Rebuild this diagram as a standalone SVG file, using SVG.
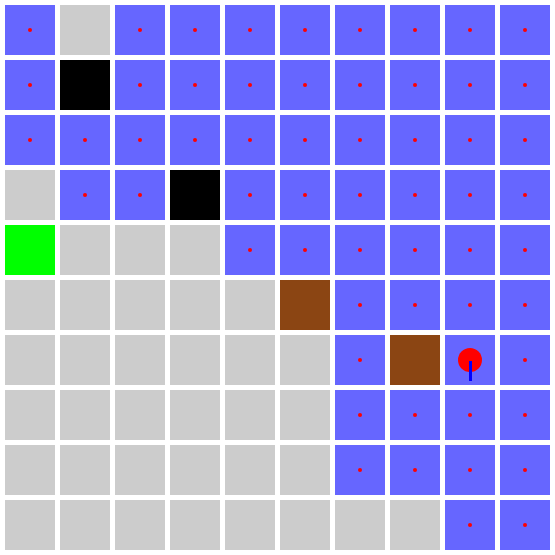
<svg xmlns="http://www.w3.org/2000/svg" width="555" height="555" viewBox="0 0 555 555">
<defs>
<style>
.b{fill:#6666ff}
.g{fill:#cccccc}
.k{fill:#000000}
.n{fill:#00ff00}
.r{fill:#8b4513}
.d{fill:#ff0000}
</style>
<rect id="cell" width="50" height="50"/>
<circle id="dot" r="2" class="d"/>
</defs>
<rect width="555" height="555" fill="#ffffff"/>
<g id="grid">
<g id="r0">
<use href="#cell" x="5" y="5" class="b"/><use href="#cell" x="60" y="5" class="g"/><use href="#cell" x="115" y="5" class="b"/><use href="#cell" x="170" y="5" class="b"/><use href="#cell" x="225" y="5" class="b"/><use href="#cell" x="280" y="5" class="b"/><use href="#cell" x="335" y="5" class="b"/><use href="#cell" x="390" y="5" class="b"/><use href="#cell" x="445" y="5" class="b"/><use href="#cell" x="500" y="5" class="b"/>
</g>
<g id="r1">
<use href="#cell" x="5" y="60" class="b"/><use href="#cell" x="60" y="60" class="k"/><use href="#cell" x="115" y="60" class="b"/><use href="#cell" x="170" y="60" class="b"/><use href="#cell" x="225" y="60" class="b"/><use href="#cell" x="280" y="60" class="b"/><use href="#cell" x="335" y="60" class="b"/><use href="#cell" x="390" y="60" class="b"/><use href="#cell" x="445" y="60" class="b"/><use href="#cell" x="500" y="60" class="b"/>
</g>
<g id="r2">
<use href="#cell" x="5" y="115" class="b"/><use href="#cell" x="60" y="115" class="b"/><use href="#cell" x="115" y="115" class="b"/><use href="#cell" x="170" y="115" class="b"/><use href="#cell" x="225" y="115" class="b"/><use href="#cell" x="280" y="115" class="b"/><use href="#cell" x="335" y="115" class="b"/><use href="#cell" x="390" y="115" class="b"/><use href="#cell" x="445" y="115" class="b"/><use href="#cell" x="500" y="115" class="b"/>
</g>
<g id="r3">
<use href="#cell" x="5" y="170" class="g"/><use href="#cell" x="60" y="170" class="b"/><use href="#cell" x="115" y="170" class="b"/><use href="#cell" x="170" y="170" class="k"/><use href="#cell" x="225" y="170" class="b"/><use href="#cell" x="280" y="170" class="b"/><use href="#cell" x="335" y="170" class="b"/><use href="#cell" x="390" y="170" class="b"/><use href="#cell" x="445" y="170" class="b"/><use href="#cell" x="500" y="170" class="b"/>
</g>
<g id="r4">
<use href="#cell" x="5" y="225" class="n"/><use href="#cell" x="60" y="225" class="g"/><use href="#cell" x="115" y="225" class="g"/><use href="#cell" x="170" y="225" class="g"/><use href="#cell" x="225" y="225" class="b"/><use href="#cell" x="280" y="225" class="b"/><use href="#cell" x="335" y="225" class="b"/><use href="#cell" x="390" y="225" class="b"/><use href="#cell" x="445" y="225" class="b"/><use href="#cell" x="500" y="225" class="b"/>
</g>
<g id="r5">
<use href="#cell" x="5" y="280" class="g"/><use href="#cell" x="60" y="280" class="g"/><use href="#cell" x="115" y="280" class="g"/><use href="#cell" x="170" y="280" class="g"/><use href="#cell" x="225" y="280" class="g"/><use href="#cell" x="280" y="280" class="r"/><use href="#cell" x="335" y="280" class="b"/><use href="#cell" x="390" y="280" class="b"/><use href="#cell" x="445" y="280" class="b"/><use href="#cell" x="500" y="280" class="b"/>
</g>
<g id="r6">
<use href="#cell" x="5" y="335" class="g"/><use href="#cell" x="60" y="335" class="g"/><use href="#cell" x="115" y="335" class="g"/><use href="#cell" x="170" y="335" class="g"/><use href="#cell" x="225" y="335" class="g"/><use href="#cell" x="280" y="335" class="g"/><use href="#cell" x="335" y="335" class="b"/><use href="#cell" x="390" y="335" class="r"/><use href="#cell" x="445" y="335" class="b"/><use href="#cell" x="500" y="335" class="b"/>
</g>
<g id="r7">
<use href="#cell" x="5" y="390" class="g"/><use href="#cell" x="60" y="390" class="g"/><use href="#cell" x="115" y="390" class="g"/><use href="#cell" x="170" y="390" class="g"/><use href="#cell" x="225" y="390" class="g"/><use href="#cell" x="280" y="390" class="g"/><use href="#cell" x="335" y="390" class="b"/><use href="#cell" x="390" y="390" class="b"/><use href="#cell" x="445" y="390" class="b"/><use href="#cell" x="500" y="390" class="b"/>
</g>
<g id="r8">
<use href="#cell" x="5" y="445" class="g"/><use href="#cell" x="60" y="445" class="g"/><use href="#cell" x="115" y="445" class="g"/><use href="#cell" x="170" y="445" class="g"/><use href="#cell" x="225" y="445" class="g"/><use href="#cell" x="280" y="445" class="g"/><use href="#cell" x="335" y="445" class="b"/><use href="#cell" x="390" y="445" class="b"/><use href="#cell" x="445" y="445" class="b"/><use href="#cell" x="500" y="445" class="b"/>
</g>
<g id="r9">
<use href="#cell" x="5" y="500" class="g"/><use href="#cell" x="60" y="500" class="g"/><use href="#cell" x="115" y="500" class="g"/><use href="#cell" x="170" y="500" class="g"/><use href="#cell" x="225" y="500" class="g"/><use href="#cell" x="280" y="500" class="g"/><use href="#cell" x="335" y="500" class="g"/><use href="#cell" x="390" y="500" class="g"/><use href="#cell" x="445" y="500" class="b"/><use href="#cell" x="500" y="500" class="b"/>
</g>
</g>
<g id="dots">
<use href="#dot" x="30" y="30"/><use href="#dot" x="140" y="30"/><use href="#dot" x="195" y="30"/><use href="#dot" x="250" y="30"/><use href="#dot" x="305" y="30"/><use href="#dot" x="360" y="30"/><use href="#dot" x="415" y="30"/><use href="#dot" x="470" y="30"/><use href="#dot" x="525" y="30"/>
<use href="#dot" x="30" y="85"/><use href="#dot" x="140" y="85"/><use href="#dot" x="195" y="85"/><use href="#dot" x="250" y="85"/><use href="#dot" x="305" y="85"/><use href="#dot" x="360" y="85"/><use href="#dot" x="415" y="85"/><use href="#dot" x="470" y="85"/><use href="#dot" x="525" y="85"/>
<use href="#dot" x="30" y="140"/><use href="#dot" x="85" y="140"/><use href="#dot" x="140" y="140"/><use href="#dot" x="195" y="140"/><use href="#dot" x="250" y="140"/><use href="#dot" x="305" y="140"/><use href="#dot" x="360" y="140"/><use href="#dot" x="415" y="140"/><use href="#dot" x="470" y="140"/><use href="#dot" x="525" y="140"/>
<use href="#dot" x="85" y="195"/><use href="#dot" x="140" y="195"/><use href="#dot" x="250" y="195"/><use href="#dot" x="305" y="195"/><use href="#dot" x="360" y="195"/><use href="#dot" x="415" y="195"/><use href="#dot" x="470" y="195"/><use href="#dot" x="525" y="195"/>
<use href="#dot" x="250" y="250"/><use href="#dot" x="305" y="250"/><use href="#dot" x="360" y="250"/><use href="#dot" x="415" y="250"/><use href="#dot" x="470" y="250"/><use href="#dot" x="525" y="250"/>
<use href="#dot" x="360" y="305"/><use href="#dot" x="415" y="305"/><use href="#dot" x="470" y="305"/><use href="#dot" x="525" y="305"/>
<use href="#dot" x="360" y="360"/><use href="#dot" x="525" y="360"/>
<use href="#dot" x="360" y="415"/><use href="#dot" x="415" y="415"/><use href="#dot" x="470" y="415"/><use href="#dot" x="525" y="415"/>
<use href="#dot" x="360" y="470"/><use href="#dot" x="415" y="470"/><use href="#dot" x="470" y="470"/><use href="#dot" x="525" y="470"/>
<use href="#dot" x="470" y="525"/><use href="#dot" x="525" y="525"/>
</g>
<g id="agent">
<circle cx="470" cy="360" r="12" fill="#ff0000"/>
<line x1="470.5" y1="361" x2="470.5" y2="381" stroke="#0000ff" stroke-width="3"/>
</g>
</svg>
